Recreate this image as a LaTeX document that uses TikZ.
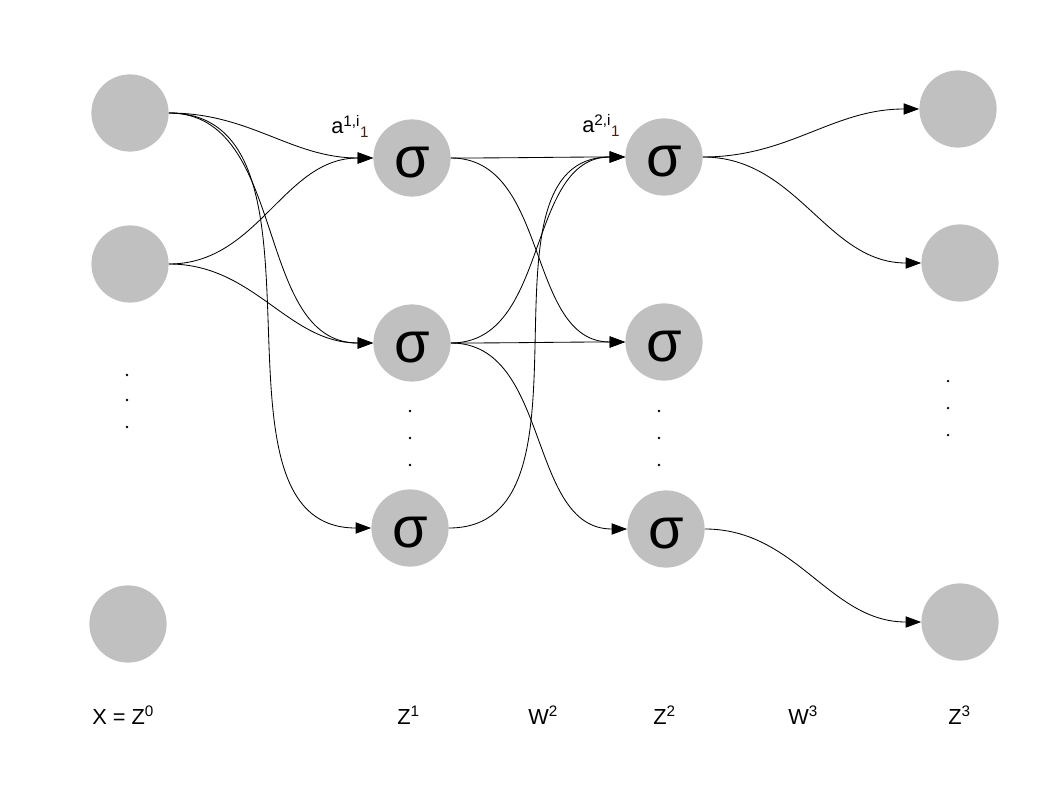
\documentclass[tikz,border=0pt]{standalone}
\usepackage{fontspec}
\setmainfont{Liberation Sans}
\usetikzlibrary{arrows.meta}
\definecolor{neurongray}{RGB}{192,192,192}
\definecolor{subtone}{RGB}{70,35,15}

\begin{document}
\begin{tikzpicture}[x=0.025cm,y=-0.025cm,>={Triangle[length=11pt,width=8pt]},
    neuron/.style={circle,fill=neurongray,minimum size=1.93cm,inner sep=0pt,
        text height=28pt,text depth=0pt,font=\fontsize{41}{41}\selectfont},
    dot/.style={circle,fill=black,minimum size=1.8pt,inner sep=0pt},
    layer/.style={anchor=base west,inner sep=0pt,font=\fontsize{15.5}{18}\selectfont},
    link/.style={out=0,in=180,line width=0.6pt}]
    \useasboundingbox (0,0) rectangle (1058,794);

    % Input layer
    \node[neuron] (x1) at (130,113) {};
    \node[neuron] (x2) at (130,264) {};
    \node[neuron] (x3) at (128,624) {};
    % Hidden layers
    \node[neuron] (s11) at (412,158) {σ};
    \node[neuron] (s12) at (412,343) {σ};
    \node[neuron] (s13) at (410,528) {σ};
    \node[neuron] (s21) at (664,157) {σ};
    \node[neuron] (s22) at (664,342) {σ};
    \node[neuron] (s23) at (666,529) {σ};
    % Output layer
    \node[neuron] (y1) at (958,109) {};
    \node[neuron] (y2) at (960,263) {};
    \node[neuron] (y3) at (960,622) {};

    % Vertical dots
    \foreach \y in {375,400,427} \node[dot] (d0-\y) at (127,\y) {};
    \foreach \y in {411,438,465} \node[dot] (d1-\y) at (410,\y) {};
    \foreach \y in {411,438,465} \node[dot] (d2-\y) at (659,\y) {};
    \foreach \y in {381,408,435} \node[dot] (d3-\y) at (948,\y) {};

    \path[->]
        (x1) edge[link] (s11)
        (x1) edge[link] (s12)
        (x1) edge[link] (s13)
        (x2) edge[link] (s11)
        (x2) edge[link] (s12)
        (s11) edge[link] (s21)
        (s11) edge[link] (s22)
        (s12) edge[link] (s21)
        (s12) edge[link] (s22)
        (s12) edge[link] (s23)
        (s13) edge[link] (s21)
        (s21) edge[link] (y1)
        (s21) edge[link] (y2)
        (s23) edge[link] (y3);

    % Activation labels
    \node[layer] (a1) at (331,134) {a\textsuperscript{1,i}\textsubscript{\color{subtone}1}};
    \node[layer] (a2) at (582,133) {a\textsuperscript{2,i}\textsubscript{\color{subtone}1}};

    % Layer names
    \node[layer] (z0) at (92,724) {X = Z\textsuperscript{0}};
    \node[layer] (z1) at (397,724) {Z\textsuperscript{1}};
    \node[layer] (w2) at (528,724) {W\textsuperscript{2}};
    \node[layer] (z2) at (653,724) {Z\textsuperscript{2}};
    \node[layer] (w3) at (788,724) {W\textsuperscript{3}};
    \node[layer] (z3) at (948,724) {Z\textsuperscript{3}};
\end{tikzpicture}
\end{document}
